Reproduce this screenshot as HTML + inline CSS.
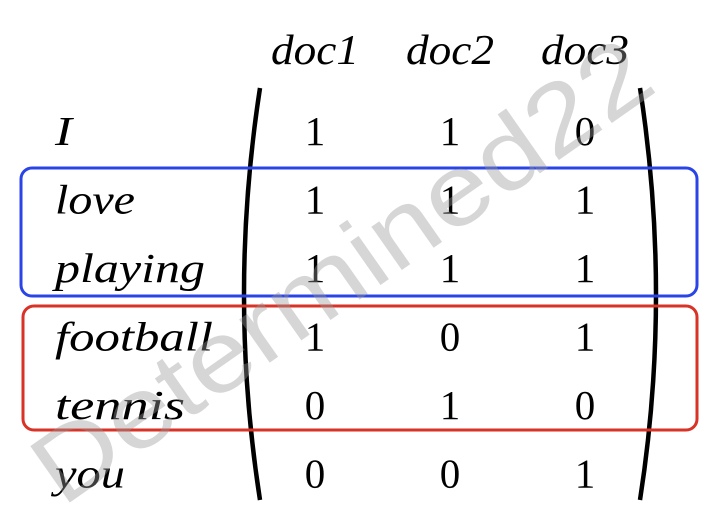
<!DOCTYPE html>
<html><head><meta charset="utf-8"><style>
html,body{margin:0;padding:0;background:#fff;width:718px;height:528px;overflow:hidden}
svg text{font-family:"Liberation Serif",serif}
</style></head><body>
<svg id="s" width="718" height="528" viewBox="0 0 718 528">
  <g id="hdr"></g>
  <g id="rows"></g>
  <g id="cells"></g>
  <path d="M260 88 Q228 295 260 500" fill="none" stroke="#000" stroke-width="4.5"/>
  <path d="M640 88 Q672 295 640 500" fill="none" stroke="#000" stroke-width="4.5"/>
  <rect x="21" y="168" width="676" height="128" rx="11" fill="none" stroke="#2b44e8" stroke-width="3"/>
  <rect x="23" y="306" width="674" height="124" rx="11" fill="none" stroke="#d93226" stroke-width="3"/>
  <text x="0" y="0" transform="translate(62,508) rotate(-35)" style="font-family:'Liberation Sans',sans-serif" font-size="100" fill="#999" fill-opacity="0.4" textLength="730" lengthAdjust="spacingAndGlyphs">Determined22</text>
</svg>
<script>
const docs = ["doc1","doc2","doc3"];
const terms = ["I","love","playing","football","tennis","you"];
const doc1 = [1,1,1,1,0,0];
const doc2 = [1,1,1,0,1,0];
const doc3 = [0,1,1,1,0,1];
const series=[doc1,doc2,doc3];
const termW={I:17,love:80,playing:150,football:158,tennis:130,you:70};
const ns="http://www.w3.org/2000/svg";
function colX(i){return 315+i*135;}
function rowY(j){return 145+j*68.5;}
const hdr=document.getElementById('hdr'),rows=document.getElementById('rows'),cells=document.getElementById('cells');
docs.forEach((d,i)=>{
  const t=document.createElementNS(ns,'text');
  t.setAttribute('x',colX(i)-44);t.setAttribute('y',64);
  t.setAttribute('font-size','42');t.setAttribute('font-style','italic');t.textContent=d;
  t.setAttribute('textLength',88);t.setAttribute('lengthAdjust','spacingAndGlyphs');
  
  
  hdr.appendChild(t);
});
terms.forEach((w,j)=>{
  const t=document.createElementNS(ns,'text');
  t.setAttribute('x',55);t.setAttribute('y',rowY(j));
  t.setAttribute('font-size','41');t.setAttribute('font-style','italic');t.textContent=w;
  t.setAttribute('textLength',termW[w]);t.setAttribute('lengthAdjust','spacingAndGlyphs');
  
  
  rows.appendChild(t);
  series.forEach((s,i)=>{
    const c=document.createElementNS(ns,'text');
    c.setAttribute('x',colX(i));c.setAttribute('y',rowY(j));c.setAttribute('text-anchor','middle');
    c.setAttribute('font-size','41');c.textContent=s[j];
    
    
    cells.appendChild(c);
  });
});
</script>
</body></html>
